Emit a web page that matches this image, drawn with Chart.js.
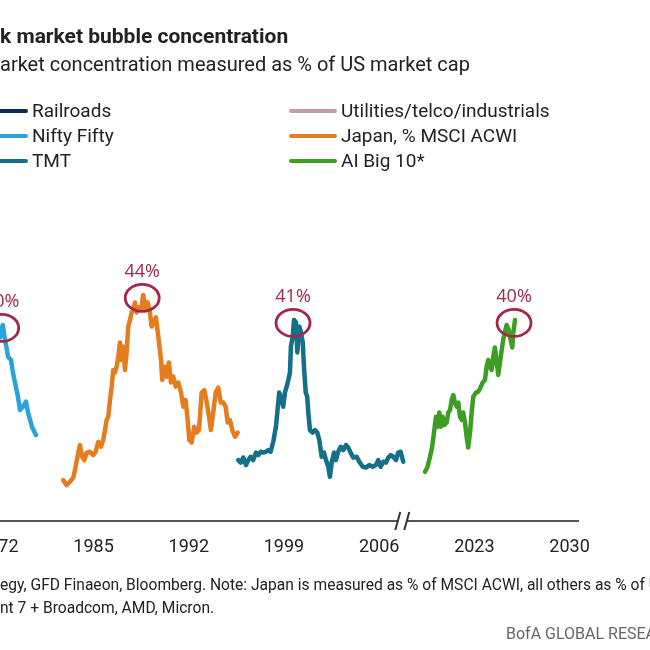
<!DOCTYPE html>
<html>
<head>
<meta charset="utf-8">
<script src="https://cdn.jsdelivr.net/npm/chart.js@4.4.1/dist/chart.umd.min.js"></script>
<style>
  body { margin: 0; width: 650px; height: 650px; overflow: hidden; position: relative; background: #fff; color: #222; font-family: Roboto, "Noto Sans", sans-serif; }
  canvas { position: absolute; left: 0; top: 0; }
  .row { position: absolute; left: 0; white-space: nowrap; }
  .pre { position: absolute; right: 100%; top: 0; }
  #title { top: 23px; font-size: 21px; line-height: 26px; font-weight: bold; }
  #subtitle { top: 51px; font-size: 20px; line-height: 26px; }
  .item { position: absolute; white-space: nowrap; font-size: 19px; line-height: 24px; }
  .item i { position: absolute; top: 10px; height: 4px; width: 48px; left: -52px; border-radius: 2px; }
  .foot { font-size: 15.6px; line-height: 20px; }
  #brand { position: absolute; left: 506px; top: 624px; font-size: 16px; line-height: 20px; color: #666; white-space: nowrap; }
</style>
</head>
<body>
<canvas id="chart" width="650" height="650"></canvas>
<div class="row" id="title"><span class="pre">Stoc</span>k market bubble concentration</div>
<div class="row" id="subtitle"><span class="pre">M</span>arket concentration measured as % of US market cap</div>
<div id="legend"></div>
<div class="row foot" style="top:575px"><span class="pre">Source: BofA Global Investment Strat</span>egy, GFD Finaeon, Bloomberg. Note: Japan is measured as % of MSCI ACWI, all others as % of US market cap.</div>
<div class="row foot" style="top:598px"><span class="pre">*AI Big 10 = Magnifice</span>nt 7 + Broadcom, AMD, Micron.</div>
<div id="brand">BofA GLOBAL RESEARCH</div>
<script>
// legend entries (Railroads and Utilities sit off to the left of this crop)
const seriesNames = ['Railroads', 'Nifty Fifty', 'TMT', 'Utilities/telco/industrials', 'Japan, % MSCI ACWI', 'AI Big 10*']
const seriesColors = ['#0b2d52', '#2ba3da', '#146f89', '#c49ba8', '#e57c1e', '#3e9d23']

const tickLabels = ['1972', '1985', '1992', '1999', '2006', '2023', '2030']
const axisBreakYear = 2007.7

const niftyYears = [1971.90, 1972.12, 1972.32, 1972.49, 1972.63, 1972.71, 1972.93, 1973.07, 1973.22, 1973.44,
    1973.59, 1973.81, 1974.03, 1974.18, 1974.47, 1974.76]
const niftyShare = [36.1, 39.0, 40.5, 38.7, 37.5, 36.7, 36.3, 34.8, 33.6, 31.9,
    30.3, 30.7, 31.3, 30.0, 28.3, 27.3]

const japanYears = [1982.77, 1983.02, 1983.26, 1983.51, 1983.68, 1983.88, 1984.00, 1984.17, 1984.32, 1984.49,
    1984.74, 1984.98, 1985.15, 1985.35, 1985.54, 1985.71, 1985.84, 1985.96, 1986.08, 1986.21,
    1986.33, 1986.45, 1986.57, 1986.70, 1986.82, 1986.94, 1987.07, 1987.18, 1987.31, 1987.43,
    1987.55, 1987.68, 1987.80, 1987.92, 1988.04, 1988.17, 1988.34, 1988.49, 1988.65, 1988.83,
    1988.98, 1989.15, 1989.27, 1989.44, 1989.59, 1989.76, 1989.96, 1990.05, 1990.25, 1990.38,
    1990.54, 1990.69, 1990.86, 1991.04, 1991.23, 1991.43, 1991.60, 1991.77, 1991.92, 1992.04,
    1992.21, 1992.40, 1992.58, 1992.75, 1992.95, 1993.14, 1993.32, 1993.49, 1993.63, 1993.80,
    1993.98, 1994.17, 1994.35, 1994.54, 1994.71, 1994.86, 1995.03, 1995.20, 1995.40, 1995.60]
const japanShare = [21.9, 21.3, 21.7, 22.2, 23.5, 25.2, 26.1, 24.7, 24.3, 25.2,
    25.3, 24.9, 25.3, 26.5, 25.9, 26.7, 27.9, 29.1, 29.5, 31.5,
    33.1, 35.1, 34.8, 35.5, 36.7, 38.4, 36.3, 37.9, 35.1, 37.2,
    40.3, 41.1, 42.0, 42.3, 43.2, 42.0, 42.6, 42.3, 44.1, 42.3,
    43.2, 42.0, 40.3, 40.8, 41.4, 39.1, 36.3, 33.9, 35.5, 34.3,
    36.0, 33.6, 34.3, 33.1, 33.6, 32.4, 30.7, 31.5, 29.1, 26.7,
    26.4, 28.3, 27.6, 27.9, 32.4, 32.7, 31.2, 29.5, 27.9, 30.0,
    32.4, 33.0, 31.2, 31.2, 30.7, 28.8, 29.1, 27.9, 27.1, 27.6]

const tmtYears = [1995.64, 1995.82, 1996.01, 1996.21, 1996.38, 1996.55, 1996.74, 1996.94, 1997.11, 1997.29,
    1997.48, 1997.68, 1997.85, 1998.02, 1998.21, 1998.41, 1998.51, 1998.65, 1998.83, 1998.95,
    1999.07, 1999.20, 1999.32, 1999.44, 1999.51, 1999.64, 1999.74, 1999.88, 1999.98, 2000.13,
    2000.25, 2000.38, 2000.47, 2000.60, 2000.71, 2000.79, 2000.91, 2001.11, 2001.28, 2001.45,
    2001.60, 2001.77, 2001.94, 2002.09, 2002.26, 2002.38, 2002.51, 2002.68, 2002.82, 2002.99,
    2003.17, 2003.36, 2003.56, 2003.73, 2003.90, 2004.10, 2004.35, 2004.54, 2004.79, 2005.03,
    2005.27, 2005.52, 2005.76, 2005.93, 2006.11, 2006.30, 2006.50, 2006.67, 2006.85, 2007.04,
    2007.24, 2007.40, 2007.58, 2007.77]
const tmtShare = [24.3, 24.0, 24.6, 23.7, 24.3, 24.7, 24.3, 25.2, 24.9, 25.3,
    25.2, 25.3, 25.5, 25.3, 26.5, 28.3, 30.0, 32.4, 31.5, 30.7,
    32.4, 33.1, 33.9, 34.8, 37.9, 39.1, 41.1, 40.8, 37.2, 40.3,
    39.6, 38.4, 35.5, 32.4, 31.9, 30.0, 27.9, 27.6, 27.9, 27.6,
    26.7, 24.7, 25.2, 24.3, 23.5, 22.3, 24.0, 25.2, 24.3, 25.3,
    25.9, 25.5, 26.1, 25.8, 25.2, 24.6, 24.7, 24.1, 23.5, 23.4,
    23.7, 23.5, 23.7, 24.3, 23.5, 24.1, 24.0, 24.6, 24.9, 24.7,
    24.3, 25.2, 25.3, 24.1]

const aiYears = [2019.37, 2019.54, 2019.74, 2019.90, 2020.03, 2020.18, 2020.30, 2020.42, 2020.54, 2020.67,
    2020.79, 2020.96, 2021.08, 2021.21, 2021.33, 2021.45, 2021.57, 2021.70, 2021.82, 2021.94,
    2022.07, 2022.18, 2022.31, 2022.43, 2022.55, 2022.68, 2022.80, 2022.92, 2023.12, 2023.29,
    2023.46, 2023.61, 2023.78, 2023.90, 2024.02, 2024.15, 2024.27, 2024.39, 2024.51, 2024.64,
    2024.76, 2024.88, 2025.01, 2025.12, 2025.25, 2025.37, 2025.52, 2025.67, 2025.79, 2025.86,
    2025.99]
const aiShare = [22.9, 23.4, 24.7, 25.9, 27.6, 29.5, 28.3, 30.0, 28.3, 29.5,
    28.5, 28.8, 30.0, 30.3, 31.5, 32.1, 31.2, 30.7, 31.2, 29.5,
    29.1, 30.0, 28.8, 27.1, 25.8, 27.6, 30.0, 31.9, 32.4, 32.5,
    33.0, 33.6, 33.9, 35.5, 36.3, 35.5, 35.1, 36.7, 37.8, 36.0,
    34.5, 36.0, 37.5, 38.7, 39.7, 40.5, 39.9, 38.7, 37.8, 39.6,
    41.1]

// peak call-outs, same order as the drawn series
const peakLabels = ['40%', '44%', '41%', '40%']

// the time axis is broken between episodes: map each era onto one continuous scale
function toAxis(year) {
    if (year < 1980) return year - 1972
    if (year < 2015) return year - 1978
    return year - 1988
}

function points(years, values) {
    return years.map((y, i) => ({x: toAxis(y), y: values[i]}))
}

// legend, two columns of three
const legend = document.getElementById('legend')
seriesNames.forEach((name, i) => {
    const col = Math.floor(i / 3), row = i % 3
    const item = document.createElement('div')
    item.className = 'item'
    item.style.left = (col ? 341 : 32) + 'px'
    item.style.top = (99 + row * 25) + 'px'
    item.innerHTML = '<i style="background:' + seriesColors[i] + '"></i>' + name
    legend.appendChild(item)
})

const peakCircles = {
    id: 'peakCircles',
    afterDatasetsDraw(chart) {
        const ctx = chart.ctx
        chart.data.datasets.forEach((ds, i) => {
            const pts = chart.getDatasetMeta(i).data
            let top = pts[0]
            pts.forEach(p => { if (p.y < top.y) top = p })
            const cx = top.x - 1, cy = top.y + 3
            ctx.save()
            ctx.strokeStyle = '#a3264b'
            ctx.lineWidth = 2.8
            ctx.beginPath()
            ctx.ellipse(cx, cy, 17, 13.5, 0, 0, Math.PI * 2)
            ctx.stroke()
            ctx.fillStyle = '#a3264b'
            ctx.font = '18px "Open Sans"'
            ctx.textAlign = 'center'
            ctx.textBaseline = 'middle'
            ctx.fillText(peakLabels[i], cx, cy - 26)
            ctx.restore()
        })
    }
}

const axisBreak = {
    id: 'axisBreak',
    afterDraw(chart) {
        const ctx = chart.ctx
        const x = chart.scales.x.getPixelForValue(toAxis(axisBreakYear))
        const y = chart.chartArea.bottom
        ctx.save()
        ctx.fillStyle = '#fff'
        ctx.fillRect(x - 4, y - 3, 8, 6)
        ctx.strokeStyle = '#333'
        ctx.lineWidth = 2
        ctx.beginPath()
        ctx.moveTo(x - 7, y + 9); ctx.lineTo(x - 2, y - 9)
        ctx.moveTo(x + 2, y + 9); ctx.lineTo(x + 7, y - 9)
        ctx.stroke()
        ctx.restore()
    }
}

function series(label, years, values, color) {
    return {
        label: label,
        data: points(years, values),
        borderColor: color,
        backgroundColor: color,
        borderWidth: 4.5,
        borderJoinStyle: 'round',
        borderCapStyle: 'round',
        pointRadius: 0,
        tension: 0,
        fill: false
    }
}

Chart.defaults.font.family = 'Roboto, "Noto Sans", sans-serif'

new Chart(document.getElementById('chart').getContext('2d'), {
    type: 'line',
    data: {
        datasets: [
            series('Nifty Fifty', niftyYears, niftyShare, seriesColors[1]),
            series('Japan, % MSCI ACWI', japanYears, japanShare, seriesColors[4]),
            series('TMT', tmtYears, tmtShare, seriesColors[2]),
            series('AI Big 10*', aiYears, aiShare, seriesColors[5])
        ]
    },
    options: {
        responsive: false,
        animation: false,
        events: [],
        layout: {
            padding: {top: 229, bottom: 89, left: 0, right: 72}
        },
        scales: {
            x: {
                type: 'linear',
                min: 0.12,
                max: 42.62,
                afterBuildTicks(scale) {
                    scale.ticks = tickLabels.map(l => ({value: toAxis(+l)}))
                },
                afterFit(scale) {
                    scale.height = 40
                    scale.paddingLeft = 0
                    scale.paddingRight = 0
                },
                grid: {drawOnChartArea: false, drawTicks: false},
                border: {display: true, color: '#555', width: 2},
                ticks: {
                    autoSkip: false,
                    maxRotation: 0,
                    padding: 16,
                    color: '#222',
                    font: {size: 18},
                    callback: (v, i) => tickLabels[i]
                }
            },
            y: {
                display: false,
                min: 17,
                max: 52
            }
        },
        plugins: {
            legend: {display: false},
            tooltip: {enabled: false}
        }
    },
    plugins: [peakCircles, axisBreak]
})
</script>
</body>
</html>
